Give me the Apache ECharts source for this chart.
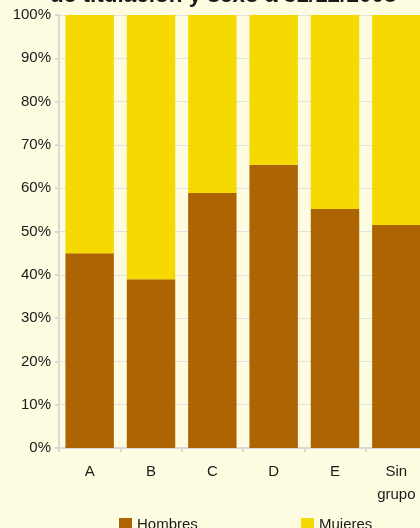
<!DOCTYPE html>
<html>
<head>
<meta charset="utf-8">
<script src="https://cdn.jsdelivr.net/npm/echarts@6/dist/echarts.min.js"></script>
<style>
html,body{margin:0;padding:0;background:#FDFCE1;}
#chart{width:420px;height:528px;}
</style>
</head>
<body>
<div id="chart"></div>
<script>
var titleText = 'de titulación y sexo a 31/12/2008';
var categories = ['A', 'B', 'C', 'D', 'E', 'Sin\ngrupo'];
var hombres = [45.0, 39.0, 58.9, 65.4, 55.2, 51.5];
var mujeres = [55.0, 61.0, 41.1, 34.6, 44.8, 48.5];
var yTicks = [0, 10, 20, 30, 40, 50, 60, 70, 80, 90, 100];

var chart = echarts.init(document.getElementById('chart'), null, {renderer: 'canvas'});
var textColor = '#1a1a1a';
var font = 'Liberation Sans, Arial, sans-serif';
chart.setOption({
  backgroundColor: '#FDFCE1',
  animation: false,
  title: {
    text: titleText,
    left: 50,
    top: -15.5,
    padding: 0,
    textStyle: {fontFamily: font, fontSize: 22.5, fontWeight: 'bold', color: textColor, lineHeight: 22}
  },
  legend: [
    {
      data: ['Hombres'], left: 119, top: 517, padding: 0,
      itemWidth: 13, itemHeight: 13, icon: 'rect',
      textStyle: {fontFamily: font, fontSize: 15, color: textColor}
    },
    {
      data: ['Mujeres'], left: 301, top: 517, padding: 0,
      itemWidth: 13, itemHeight: 13, icon: 'rect',
      textStyle: {fontFamily: font, fontSize: 15, color: textColor}
    }
  ],
  grid: {left: 59, right: -7, top: 15, bottom: 80, outerBoundsMode: 'none', containLabel: false},
  xAxis: {
    type: 'category',
    data: categories,
    axisLine: {show: true, lineStyle: {color: '#D9D9D9', width: 2}},
    axisTick: {show: true, length: 4, lineStyle: {color: '#D9D9D9', width: 2}},
    axisLabel: {fontFamily: font, fontSize: 15, color: textColor, margin: 12, lineHeight: 23, interval: 0}
  },
  yAxis: {
    type: 'value',
    min: yTicks[0],
    max: yTicks[yTicks.length - 1],
    interval: 10,
    axisLine: {show: true, lineStyle: {color: '#D9D9D9', width: 2}},
    axisTick: {show: true, length: 4, lineStyle: {color: '#D9D9D9', width: 2}},
    splitLine: {show: true, lineStyle: {color: '#E2E2E2', width: 1}},
    axisLabel: {fontFamily: font, fontSize: 15, color: textColor, margin: 8, formatter: '{value}%'}
  },
  series: [
    {
      name: 'Hombres', type: 'bar', stack: 'total', data: hombres,
      barCategoryGap: '21%',
      itemStyle: {color: '#AD6503'}
    },
    {
      name: 'Mujeres', type: 'bar', stack: 'total', data: mujeres,
      barCategoryGap: '21%',
      itemStyle: {color: '#F5D900'}
    }
  ]
});
</script>
</body>
</html>
